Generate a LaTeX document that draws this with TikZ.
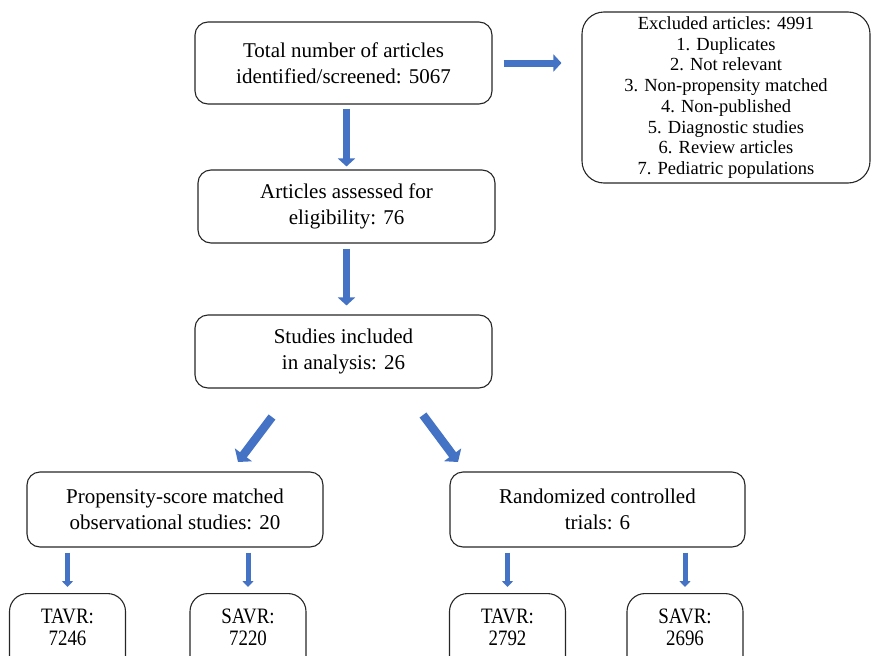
\documentclass[tikz,border=0pt]{standalone}
\usepackage{fontspec}
\setmainfont{Liberation Serif}
\newfontfamily\narrowserif[FakeStretch=0.86]{Liberation Serif}
\usetikzlibrary{arrows.meta}

\definecolor{arrowblue}{RGB}{68,114,196}

\tikzset{
	box/.style = {draw = black!85, line width = 1.1pt, rounded corners = 13pt, align = center, inner sep = 0pt, font = \fontsize{21}{26}\selectfont},
	tallbox/.style = {box, rounded corners = 22pt, font = \fontsize{18.5}{20.7}\selectfont},
	countbox/.style = {box, rounded corners = 18pt, anchor = north, minimum width = 116pt, inner ysep = 15pt, text depth = 20pt, font = \narrowserif\fontsize{22}{22.5}\selectfont},
	fatarrow/.style = {draw = arrowblue, line width = 7pt, -{Triangle[width = 17pt, length = 8pt]}},
	thinarrow/.style = {draw = arrowblue, line width = 5pt, -{Triangle[width = 11pt, length = 6pt]}}
}

\begin{document}
\begin{tikzpicture}[x = 1pt, y = -1pt]
	%	page
	\useasboundingbox (0, 0) rectangle (873, 656);
	\clip (0, 0) rectangle (873, 656);
	
	%	boxes
	\node[box, minimum width = 297, minimum height = 82] (total) at (343.5, 63) {Total number of articles\\identified/screened: 5067};
	\node[tallbox, minimum width = 288, minimum height = 171] (excluded) at (726, 97.5) {Excluded articles: 4991\\1. Duplicates\\2. Not relevant\\3. Non-propensity matched\\4. Non-published\\5. Diagnostic studies\\6. Review articles\\7. Pediatric populations};
	\node[box, minimum width = 297, minimum height = 73] (assessed) at (346.5, 206.5) {Articles assessed for\\eligibility: 76};
	\node[box, minimum width = 297, minimum height = 73] (included) at (343.5, 351.5) {Studies included\\in analysis: 26};
	\node[box, minimum width = 296, minimum height = 75] (psm) at (175, 509.5) {Propensity-score matched\\observational studies: 20};
	\node[box, minimum width = 295, minimum height = 75] (rct) at (597.5, 509.5) {Randomized controlled\\trials: 6};
	
	%	counts
	\node[countbox] (tavrA) at (67.5, 593) {TAVR:\\7246};
	\node[countbox] (savrA) at (248, 593) {SAVR:\\7220};
	\node[countbox] (tavrB) at (507.5, 593) {TAVR:\\2792};
	\node[countbox] (savrB) at (685, 593) {SAVR:\\2696};
	
	%	arrows
	\draw[fatarrow, shorten <= 11pt, shorten >= 20pt] (total.east) -- (total.east -| excluded.west);
	\draw[fatarrow, shorten <= 4pt, shorten >= 3pt] (assessed.north |- total.south) -- (assessed.north);
	\draw[fatarrow, shorten <= 5pt, shorten >= 9pt] (assessed.south) -- (assessed.south |- included.north);
	
	%	split
	\coordinate (splitL) at (272, 417);
	\coordinate (splitR) at (423, 415);
	\coordinate (psmIn) at (238, 462);
	\coordinate (rctIn) at (458, 462);
	\draw[fatarrow, line width = 8.5pt, -{Triangle[width = 21pt, length = 9pt]}] (splitL) -- (psmIn);
	\draw[fatarrow, line width = 8.5pt, -{Triangle[width = 21pt, length = 9pt]}] (splitR) -- (rctIn);
	
	\draw[thinarrow, shorten <= 5pt, shorten >= 6pt] (psm.south -| tavrA.north) -- (tavrA.north);
	\draw[thinarrow, shorten <= 5pt, shorten >= 6pt] (psm.south -| savrA.north) -- (savrA.north);
	\draw[thinarrow, shorten <= 5pt, shorten >= 6pt] (rct.south -| tavrB.north) -- (tavrB.north);
	\draw[thinarrow, shorten <= 5pt, shorten >= 6pt] (rct.south -| savrB.north) -- (savrB.north);
\end{tikzpicture}
\end{document}
